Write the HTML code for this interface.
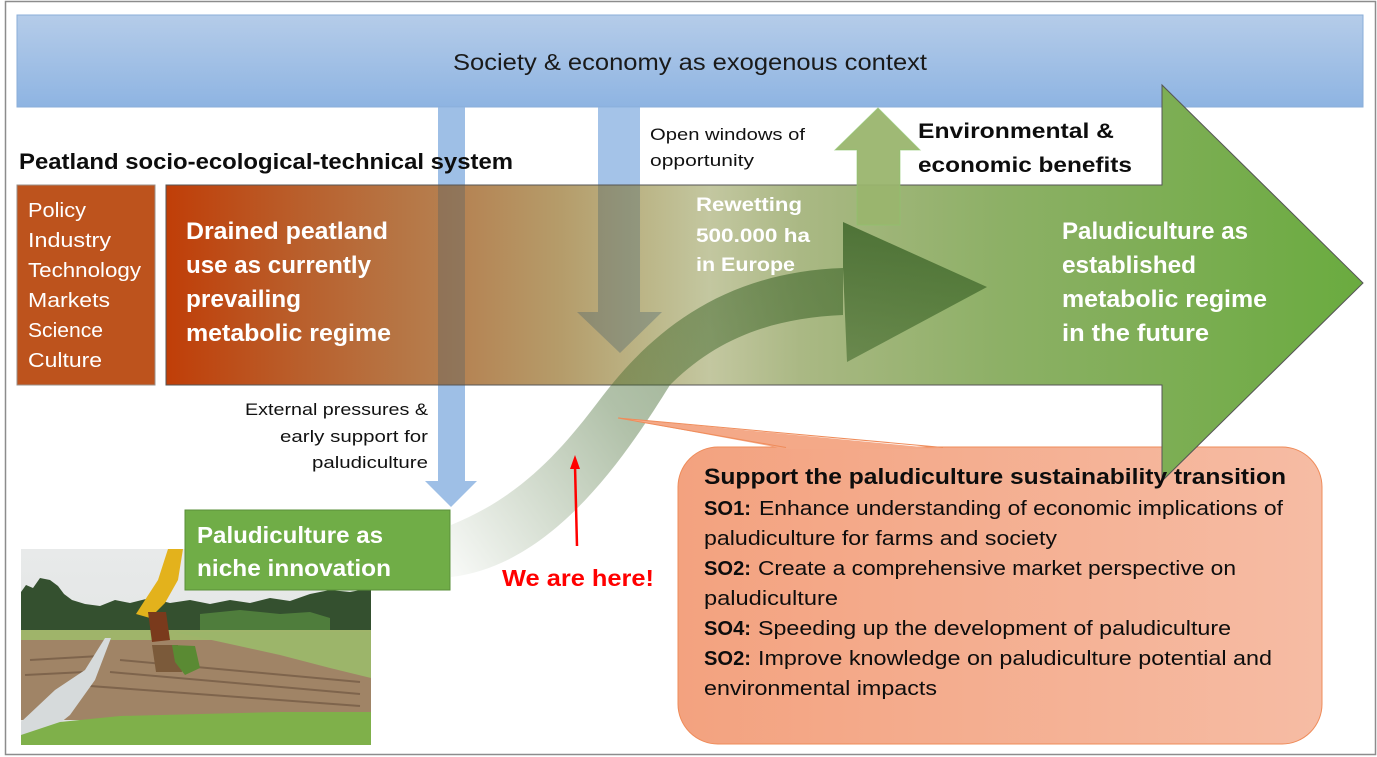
<!DOCTYPE html>
<html><head><meta charset="utf-8"><style>
html,body{margin:0;padding:0;background:#fff;}
svg{display:block;}
text{font-family:"Liberation Sans",Arial,sans-serif;}
</style></head><body>
<svg width="1377" height="757" viewBox="0 0 1377 757" xmlns="http://www.w3.org/2000/svg">
<defs>
 <linearGradient id="bar" x1="0" y1="0" x2="0" y2="1">
  <stop offset="0" stop-color="#b5cce9"/><stop offset="1" stop-color="#8eb4e2"/>
 </linearGradient>
 <linearGradient id="big" gradientUnits="userSpaceOnUse" x1="166" y1="0" x2="1363" y2="0">
  <stop offset="0" stop-color="#c03e08"/>
  <stop offset="0.112" stop-color="#b95f2c"/>
  <stop offset="0.237" stop-color="#b58050"/>
  <stop offset="0.33" stop-color="#b59c6a"/>
  <stop offset="0.404" stop-color="#bcb789"/>
  <stop offset="0.454" stop-color="#c3c7a0"/>
  <stop offset="0.53" stop-color="#aab884"/>
  <stop offset="0.697" stop-color="#8db066"/>
  <stop offset="1" stop-color="#6aab3f"/>
 </linearGradient>
 <linearGradient id="call" x1="0" y1="0" x2="1" y2="0">
  <stop offset="0" stop-color="#f3a27f"/><stop offset="1" stop-color="#f6bca4"/>
 </linearGradient>
 <linearGradient id="band" gradientUnits="userSpaceOnUse" x1="451" y1="570" x2="860" y2="280">
  <stop offset="0" stop-color="#3c6428" stop-opacity="0.04"/>
  <stop offset="0.45" stop-color="#3c6428" stop-opacity="0.40"/>
  <stop offset="1" stop-color="#3c6428" stop-opacity="0.62"/>
 </linearGradient>
 <linearGradient id="head" gradientUnits="userSpaceOnUse" x1="0" y1="222" x2="0" y2="362">
  <stop offset="0" stop-color="#3c6428" stop-opacity="0.82"/>
  <stop offset="1" stop-color="#3c6428" stop-opacity="0.55"/>
 </linearGradient>
 <linearGradient id="sky" x1="0" y1="0" x2="0" y2="1">
  <stop offset="0" stop-color="#e8eaea"/><stop offset="1" stop-color="#dde0df"/>
 </linearGradient>
 <clipPath id="ph"><rect x="21" y="549" width="350" height="196"/></clipPath>
</defs>

<!-- outer border -->
<rect x="5.5" y="1.5" width="1370" height="753" fill="#fff" stroke="#8c8c8c" stroke-width="1.5"/>

<!-- top bar -->
<rect x="17" y="15" width="1346" height="92" fill="url(#bar)" stroke="#8aaed8" stroke-width="1"/>
<text x="453" y="70" font-size="23" fill="#1a1a1a" textLength="474" lengthAdjust="spacingAndGlyphs">Society &amp; economy as exogenous context</text>

<!-- callout -->
<rect x="678" y="447" width="644" height="297" rx="40" ry="40" fill="url(#call)" stroke="#ef8c5a" stroke-width="1"/>

<!-- blue arrows (full shapes) -->
<polygon points="438,107 465,107 465,481 477,481 451,507 425,481 438,481" fill="#8db4e2" fill-opacity="0.85"/>
<polygon points="598,107 640,107 640,312 662,312 620,353 577,312 598,312" fill="#8db4e2" fill-opacity="0.8"/>

<!-- big arrow -->
<path d="M166,185 L1162,185 L1162,85 L1363,283 L1162,481 L1162,385 L166,385 Z" fill="url(#big)" stroke="#555" stroke-width="1"/>

<!-- overlays of blue arrows inside big arrow -->
<rect x="438" y="185.5" width="27" height="199" fill="rgb(60,90,110)" fill-opacity="0.3"/>
<polygon points="598,185.5 640,185.5 640,312 662,312 620,353 577,312 598,312" fill="rgb(60,90,110)" fill-opacity="0.33"/>

<!-- left box -->
<rect x="17" y="185" width="138" height="200" fill="#bd531d" stroke="#9a8f88" stroke-width="1"/>

<!-- up arrow -->
<polygon points="857,225 900,225 900,150 920,150 878,108 835,150 857,150" fill="#9ab56e" fill-opacity="0.95" stroke="#8cc46a" stroke-opacity="0.6" stroke-width="1"/>

<!-- curved arrow -->
<path d="M451,525 C520,497 560,452 598,402 C648,335 720,272 843,268 L843,315 C770,318 715,340 670,385 C628,452 555,565 451,577 Z" fill="url(#band)"/>
<polygon points="843,222 987,287 847,362 845,315 843,268" fill="url(#head)"/>

<!-- callout pointer -->
<polygon points="618,418 786,449 943,449" fill="#f4a988"/>
<polyline points="786,447.5 618,418 943,447.5" fill="none" stroke="#ef8c5a" stroke-width="1"/>

<!-- photo -->
<g clip-path="url(#ph)">
 <rect x="21" y="549" width="350" height="196" fill="url(#sky)"/>
 <path d="M21,592 L26,585 L33,588 L40,578 L50,580 L58,586 L64,594 L72,600 L85,604 L100,606 L115,600 L130,603 L150,598 L170,603 L190,600 L210,604 L230,600 L250,603 L270,598 L290,601 L310,594 L330,590 L350,592 L371,588 L371,634 L21,634 Z" fill="#34502f"/>
 <path d="M200,614 L240,610 L280,614 L310,612 L330,618 L330,632 L200,632 Z" fill="#4f7d3c"/>
 <rect x="21" y="630" width="350" height="14" fill="#9fb46a"/>
 <rect x="21" y="640" width="350" height="80" fill="#a08466"/>
 <path d="M175,632 L371,632 L371,678 L330,668 L280,655 L230,644 Z" fill="#9cb56a"/>
 <g stroke="#5e4534" stroke-width="2" opacity="0.5">
  <line x1="120" y1="660" x2="360" y2="682"/>
  <line x1="110" y1="672" x2="360" y2="694"/>
  <line x1="90" y1="686" x2="360" y2="706"/>
  <line x1="30" y1="660" x2="100" y2="656"/>
  <line x1="25" y1="675" x2="85" y2="672"/>
 </g>
 <path d="M105,638 L111,638 L95,680 L70,715 L45,735 L21,742 L21,722 L55,690 L85,670 Z" fill="#d6dadb"/>
 <path d="M21,745 L21,735 L60,722 L120,716 L200,714 L280,712 L371,712 L371,745 Z" fill="#7fb04a"/>
 <path d="M168,549 L183,549 L178,580 L165,603 L150,618 L136,614 L145,600 L158,580 Z" fill="#e3b21c"/>
 <path d="M148,612 L166,612 L170,640 L152,642 Z" fill="#7a3a1c"/>
 <path d="M152,645 L178,645 L182,672 L156,672 Z" fill="#7b5a3a"/>
 <path d="M172,645 L195,646 L200,668 L185,675 L175,662 Z" fill="#5a8a33"/>
</g>

<!-- niche box -->
<rect x="185" y="510" width="265" height="80" fill="#70ad47" stroke="#5a8f38" stroke-width="1"/>

<!-- red arrow -->
<line x1="577" y1="546" x2="575" y2="466" stroke="#ff0000" stroke-width="2.5"/>
<polygon points="575,455 580,469 570,469" fill="#ff0000"/>

<!-- texts -->
<text x="650" y="140" font-size="16.5" fill="#111" textLength="155" lengthAdjust="spacingAndGlyphs">Open windows of</text>
<text x="650" y="166" font-size="16.5" fill="#111" textLength="104" lengthAdjust="spacingAndGlyphs">opportunity</text>

<g font-weight="bold" fill="#0d0d0d">
<text x="918" y="138" font-size="21" textLength="196" lengthAdjust="spacingAndGlyphs">Environmental &amp;</text>
<text x="918" y="172" font-size="21" textLength="214" lengthAdjust="spacingAndGlyphs">economic benefits</text>
<text x="19" y="169" font-size="22" textLength="494" lengthAdjust="spacingAndGlyphs">Peatland socio-ecological-technical system</text>
</g>

<g fill="#ffffff" font-size="20">
<text x="28" y="217" textLength="58" lengthAdjust="spacingAndGlyphs">Policy</text>
<text x="28" y="247" textLength="83" lengthAdjust="spacingAndGlyphs">Industry</text>
<text x="28" y="277" textLength="113" lengthAdjust="spacingAndGlyphs">Technology</text>
<text x="28" y="307" textLength="82" lengthAdjust="spacingAndGlyphs">Markets</text>
<text x="28" y="337" textLength="75" lengthAdjust="spacingAndGlyphs">Science</text>
<text x="28" y="367" textLength="74" lengthAdjust="spacingAndGlyphs">Culture</text>
</g>

<g fill="#ffffff" font-weight="bold" font-size="24">
<text x="186" y="239" textLength="202" lengthAdjust="spacingAndGlyphs">Drained peatland</text>
<text x="186" y="273" textLength="185" lengthAdjust="spacingAndGlyphs">use as currently</text>
<text x="186" y="307" textLength="115" lengthAdjust="spacingAndGlyphs">prevailing</text>
<text x="186" y="341" textLength="205" lengthAdjust="spacingAndGlyphs">metabolic regime</text>

<text x="1062" y="239" textLength="186" lengthAdjust="spacingAndGlyphs">Paludiculture as</text>
<text x="1062" y="273" textLength="134" lengthAdjust="spacingAndGlyphs">established</text>
<text x="1062" y="307" textLength="205" lengthAdjust="spacingAndGlyphs">metabolic regime</text>
<text x="1062" y="341" textLength="147" lengthAdjust="spacingAndGlyphs">in the future</text>
</g>

<g fill="#ffffff" font-weight="bold" font-size="19.5">
<text x="696" y="211" textLength="106" lengthAdjust="spacingAndGlyphs">Rewetting</text>
<text x="696" y="242" textLength="114" lengthAdjust="spacingAndGlyphs">500.000 ha</text>
<text x="696" y="271" textLength="99" lengthAdjust="spacingAndGlyphs">in Europe</text>
</g>

<g fill="#ffffff" font-weight="bold" font-size="23">
<text x="197" y="543" textLength="186" lengthAdjust="spacingAndGlyphs">Paludiculture as</text>
<text x="197" y="576" textLength="194" lengthAdjust="spacingAndGlyphs">niche innovation</text>
</g>

<g fill="#111" font-size="17" text-anchor="end">
<text x="428" y="415" textLength="183" lengthAdjust="spacingAndGlyphs">External pressures &amp;</text>
<text x="428" y="442" textLength="148" lengthAdjust="spacingAndGlyphs">early support for</text>
<text x="428" y="468" textLength="116" lengthAdjust="spacingAndGlyphs">paludiculture</text>
</g>

<text x="502" y="586" font-size="23" font-weight="bold" fill="#ff0000" textLength="152" lengthAdjust="spacingAndGlyphs">We are here!</text>

<g fill="#0d0d0d">
<text x="704" y="484" font-size="22" font-weight="bold" textLength="582" lengthAdjust="spacingAndGlyphs">Support the paludiculture sustainability transition</text>
<g font-size="20">
<text x="704" y="515" font-weight="bold" textLength="47" lengthAdjust="spacingAndGlyphs">SO1:</text>
<text x="759" y="515" textLength="524" lengthAdjust="spacingAndGlyphs">Enhance understanding of economic implications of</text>
<text x="704" y="545" textLength="353" lengthAdjust="spacingAndGlyphs">paludiculture for farms and society</text>
<text x="704" y="575" font-weight="bold" textLength="47" lengthAdjust="spacingAndGlyphs">SO2:</text>
<text x="758" y="575" textLength="478" lengthAdjust="spacingAndGlyphs">Create a comprehensive market perspective on</text>
<text x="704" y="605" textLength="134" lengthAdjust="spacingAndGlyphs">paludiculture</text>
<text x="704" y="635" font-weight="bold" textLength="47" lengthAdjust="spacingAndGlyphs">SO4:</text>
<text x="758" y="635" textLength="473" lengthAdjust="spacingAndGlyphs">Speeding up the development of paludiculture</text>
<text x="704" y="665" font-weight="bold" textLength="47" lengthAdjust="spacingAndGlyphs">SO2:</text>
<text x="758" y="665" textLength="514" lengthAdjust="spacingAndGlyphs">Improve knowledge on paludiculture potential and</text>
<text x="704" y="695" textLength="233" lengthAdjust="spacingAndGlyphs">environmental impacts</text>
</g>
</g>
</svg>
</body></html>
